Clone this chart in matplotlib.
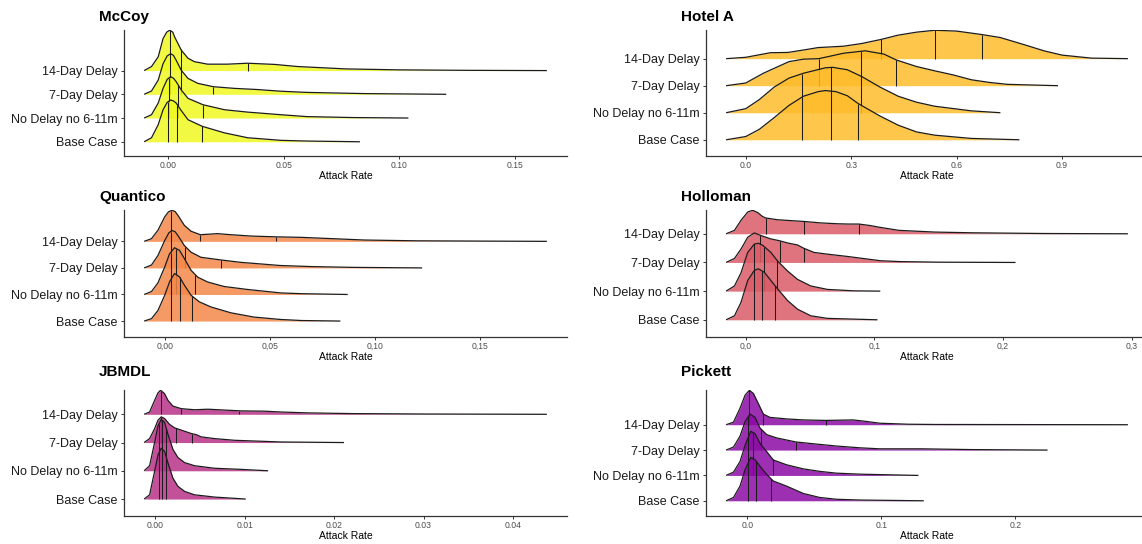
import numpy as np
import matplotlib
matplotlib.use("Agg")
import matplotlib.pyplot as plt

plt.rcParams['font.family'] = ['Liberation Sans', 'DejaVu Sans']

scenarios = ["Base Case", "No Delay no 6-11m", "7-Day Delay", "14-Day Delay"]
sites = ["McCoy", "Hotel A", "Quantico", "Holloman", "JBMDL", "Pickett"]
site_colors = {"McCoy": "#F0F921", "Hotel A": "#FEBC2A", "Quantico": "#F48849",
               "Holloman": "#DB5C68", "JBMDL": "#B93289", "Pickett": "#8B0AA5"}

# ---- density outlines (x = attack rate, h = ridge height in row units) ----
mccoy_x = {
    "14-Day Delay": [-0.0105, -0.0073, -0.0044, -0.0023, -0.0007, 0.0006, 0.0019, 0.0027, 0.0056, 0.0085, 0.0113, 0.017, 0.0256, 0.0343, 0.046, 0.056, 0.077, 0.10, 0.13, 0.164],
    "7-Day Delay": [-0.0105, -0.0073, -0.0044, -0.0023, -0.0005, 0.001, 0.0022, 0.0034, 0.0056, 0.0085, 0.0128, 0.0195, 0.0286, 0.0387, 0.0487, 0.06, 0.085, 0.1204],
    "No Delay no 6-11m": [-0.0105, -0.0073, -0.0044, -0.0023, -0.0005, 0.001, 0.0022, 0.0034, 0.0056, 0.0085, 0.015, 0.0243, 0.0343, 0.0487, 0.06, 0.08, 0.104],
    "Base Case": [-0.0105, -0.0073, -0.0044, -0.0023, -0.0005, 0.001, 0.0022, 0.0034, 0.0056, 0.0085, 0.0147, 0.0243, 0.0343, 0.0487, 0.06, 0.083],
}
mccoy_h = {
    "14-Day Delay": [0, 0.17, 0.58, 1.35, 1.62, 1.70, 1.62, 1.42, 0.86, 0.52, 0.375, 0.27, 0.27, 0.31, 0.26, 0.17, 0.07, 0.03, 0.01, 0],
    "7-Day Delay": [0, 0.14, 0.60, 1.29, 1.62, 1.71, 1.64, 1.43, 1.01, 0.67, 0.46, 0.32, 0.25, 0.20, 0.13, 0.08, 0.03, 0],
    "No Delay no 6-11m": [0, 0.14, 0.63, 1.25, 1.63, 1.74, 1.68, 1.53, 1.18, 0.83, 0.56, 0.35, 0.25, 0.14, 0.06, 0.02, 0],
    "Base Case": [0, 0.17, 0.72, 1.35, 1.66, 1.76, 1.72, 1.63, 1.31, 0.93, 0.65, 0.375, 0.17, 0.06, 0.03, 0],
}
mccoy_q = {"14-Day Delay": [0.0006, 0.0053, 0.0343], "7-Day Delay": [0.0006, 0.0053, 0.0195],
           "No Delay no 6-11m": [0.0004, 0.0042, 0.015], "Base Case": [0.0, 0.0039, 0.0147]}

hotel_x = {
    "14-Day Delay": [-0.056, 0.0, 0.07, 0.12, 0.174, 0.206, 0.278, 0.33, 0.385, 0.434, 0.486, 0.538, 0.6, 0.673, 0.725, 0.797, 0.849, 0.901, 0.984, 1.088],
    "7-Day Delay": [-0.056, 0.0, 0.05, 0.123, 0.164, 0.208, 0.278, 0.34, 0.393, 0.429, 0.486, 0.538, 0.59, 0.642, 0.694, 0.745, 0.889],
    "No Delay no 6-11m": [-0.056, 0.0, 0.039, 0.081, 0.123, 0.164, 0.226, 0.247, 0.289, 0.33, 0.382, 0.434, 0.486, 0.538, 0.642, 0.725],
    "Base Case": [-0.056, 0.0, 0.039, 0.081, 0.123, 0.164, 0.206, 0.226, 0.257, 0.289, 0.32, 0.382, 0.434, 0.486, 0.538, 0.642, 0.779],
}
hotel_h = {
    "14-Day Delay": [0, 0.05, 0.22, 0.23, 0.34, 0.41, 0.46, 0.56, 0.71, 0.87, 0.98, 1.05, 1.02, 0.89, 0.78, 0.5, 0.29, 0.13, 0.02, 0],
    "7-Day Delay": [0, 0.1, 0.46, 0.89, 0.98, 1.0, 1.2, 1.29, 1.17, 0.95, 0.71, 0.55, 0.4, 0.22, 0.12, 0.05, 0],
    "No Delay no 6-11m": [0, 0.15, 0.49, 0.95, 1.28, 1.46, 1.66, 1.68, 1.59, 1.34, 0.95, 0.61, 0.39, 0.24, 0.07, 0],
    "Base Case": [0, 0.12, 0.39, 0.82, 1.27, 1.61, 1.78, 1.82, 1.78, 1.63, 1.34, 0.88, 0.54, 0.29, 0.17, 0.05, 0],
}
hotel_q = {"14-Day Delay": [0.385, 0.538, 0.674], "7-Day Delay": [0.208, 0.328, 0.429],
           "No Delay no 6-11m": [0.160, 0.242, 0.328], "Base Case": [0.160, 0.242, 0.320]}

quantico_x = {
    "14-Day Delay": [-0.0101, -0.0066, -0.0035, -0.0003, 0.0015, 0.0032, 0.0047, 0.006, 0.0091, 0.0123, 0.0167, 0.0249, 0.0313, 0.0407, 0.0526, 0.065, 0.08, 0.095, 0.12, 0.15, 0.182],
    "7-Day Delay": [-0.0101, -0.0066, -0.0035, -0.0003, 0.0017, 0.0032, 0.0047, 0.006, 0.0091, 0.0123, 0.017, 0.0265, 0.036, 0.0455, 0.0549, 0.07, 0.09, 0.1225],
    "No Delay no 6-11m": [-0.0101, -0.0066, -0.0035, -0.0003, 0.002, 0.0044, 0.0068, 0.0091, 0.0123, 0.0155, 0.0202, 0.0281, 0.0391, 0.0549, 0.065, 0.087],
    "Base Case": [-0.0101, -0.0066, -0.0035, -0.0003, 0.002, 0.0044, 0.0068, 0.0091, 0.0123, 0.0163, 0.0218, 0.0313, 0.0423, 0.0549, 0.065, 0.0835],
}
quantico_h = {
    "14-Day Delay": [0, 0.1, 0.42, 0.92, 1.11, 1.17, 1.12, 0.98, 0.6, 0.38, 0.25, 0.29, 0.25, 0.2, 0.17, 0.15, 0.1, 0.05, 0.02, 0.01, 0],
    "7-Day Delay": [0, 0.11, 0.47, 1.03, 1.32, 1.41, 1.36, 1.22, 0.84, 0.59, 0.40, 0.30, 0.21, 0.15, 0.09, 0.05, 0.02, 0],
    "No Delay no 6-11m": [0, 0.11, 0.44, 1.03, 1.53, 1.76, 1.66, 1.35, 0.91, 0.65, 0.47, 0.30, 0.19, 0.06, 0.03, 0],
    "Base Case": [0, 0.09, 0.4, 0.97, 1.47, 1.79, 1.66, 1.35, 0.97, 0.72, 0.53, 0.31, 0.15, 0.06, 0.02, 0],
}
quantico_q = {"14-Day Delay": [0.0025, 0.0167, 0.0526], "7-Day Delay": [0.0025, 0.0096, 0.0265],
              "No Delay no 6-11m": [0.0025, 0.0052, 0.0144], "Base Case": [0.0025, 0.0068, 0.0128]}

holloman_x = {
    "14-Day Delay": [-0.0152, -0.0087, -0.0036, 0.0016, 0.0055, 0.0094, 0.0132, 0.0158, 0.0248, 0.0454, 0.0583, 0.0712, 0.0802, 0.088, 0.0964, 0.105, 0.119, 0.147, 0.176, 0.232, 0.297],
    "7-Day Delay": [-0.0152, -0.0087, -0.0036, 0.0016, 0.0067, 0.0119, 0.0196, 0.0261, 0.0326, 0.0403, 0.0454, 0.0531, 0.0635, 0.079, 0.1047, 0.12, 0.15, 0.2097],
    "No Delay no 6-11m": [-0.0152, -0.0087, -0.0036, 0.0016, 0.0067, 0.0098, 0.0132, 0.0196, 0.0248, 0.0326, 0.0403, 0.0506, 0.0635, 0.0841, 0.1046],
    "Base Case": [-0.0152, -0.0087, -0.0036, 0.0016, 0.0067, 0.0098, 0.0145, 0.0196, 0.0248, 0.0326, 0.0403, 0.0506, 0.0635, 0.1024],
}
holloman_h = {
    "14-Day Delay": [0, 0.12, 0.47, 0.76, 0.82, 0.74, 0.6, 0.55, 0.49, 0.43, 0.38, 0.35, 0.34, 0.34, 0.29, 0.22, 0.12, 0.06, 0.035, 0.01, 0],
    "7-Day Delay": [0, 0.14, 0.47, 0.88, 1.03, 0.94, 0.82, 0.76, 0.68, 0.61, 0.49, 0.35, 0.29, 0.21, 0.06, 0.03, 0.01, 0],
    "No Delay no 6-11m": [0, 0.18, 0.64, 1.35, 1.64, 1.67, 1.6, 1.35, 1.05, 0.70, 0.41, 0.18, 0.06, 0.01, 0],
    "Base Case": [0, 0.14, 0.61, 1.37, 1.72, 1.78, 1.66, 1.37, 1.08, 0.67, 0.37, 0.14, 0.05, 0],
}
holloman_q = {"14-Day Delay": [0.0158, 0.0454, 0.088], "7-Day Delay": [0.0114, 0.0266, 0.0454],
              "No Delay no 6-11m": [0.0067, 0.0145, 0.0243], "Base Case": [0.0067, 0.0127, 0.023]}

jbmdl_x = {
    "14-Day Delay": [-0.00127, -0.00066, -0.0001, 0.00028, 0.00057, 0.00102, 0.0014, 0.00195, 0.00288, 0.00437, 0.00587, 0.00772, 0.00959, 0.0122, 0.0141, 0.017, 0.022, 0.03, 0.0438],
    "7-Day Delay": [-0.00127, -0.00066, -0.0001, 0.00028, 0.00065, 0.00102, 0.00158, 0.00214, 0.00288, 0.004, 0.00456, 0.00512, 0.0066, 0.00884, 0.01145, 0.01406, 0.0211],
    "No Delay no 6-11m": [-0.00127, -0.00066, -0.0001, 0.00028, 0.00065, 0.00102, 0.0014, 0.00195, 0.00251, 0.00326, 0.00437, 0.0066, 0.00959, 0.0126],
    "Base Case": [-0.00127, -0.00066, -0.0001, 0.00028, 0.00065, 0.00102, 0.0014, 0.00195, 0.00251, 0.00326, 0.00437, 0.0066, 0.0101],
}
jbmdl_h = {
    "14-Day Delay": [0, 0.08, 0.49, 0.76, 0.85, 0.73, 0.49, 0.29, 0.2, 0.16, 0.18, 0.15, 0.12, 0.11, 0.08, 0.05, 0.025, 0.01, 0],
    "7-Day Delay": [0, 0.14, 0.49, 0.79, 0.91, 0.85, 0.64, 0.52, 0.44, 0.32, 0.28, 0.2, 0.14, 0.08, 0.05, 0.02, 0],
    "No Delay no 6-11m": [0, 0.18, 1.0, 1.59, 1.82, 1.71, 1.29, 0.76, 0.47, 0.29, 0.18, 0.09, 0.05, 0],
    "Base Case": [0, 0.15, 0.98, 1.56, 1.8, 1.68, 1.27, 0.74, 0.45, 0.27, 0.15, 0.07, 0],
}
jbmdl_q = {"14-Day Delay": [0.0006, 0.0029, 0.0094], "7-Day Delay": [0.0006, 0.0023, 0.0041],
           "No Delay no 6-11m": [0.0004, 0.0007, 0.0012], "Base Case": [0.0004, 0.0007, 0.0012]}

pickett_x = {
    "14-Day Delay": [-0.0158, -0.0103, -0.0054, -0.0016, 0.0016, 0.0046, 0.0082, 0.012, 0.0169, 0.0293, 0.0417, 0.0586, 0.0789, 0.0888, 0.0987, 0.12, 0.14, 0.208, 0.284],
    "7-Day Delay": [-0.0158, -0.0103, -0.0054, -0.0016, 0.0021, 0.0058, 0.0095, 0.0145, 0.0219, 0.0363, 0.0492, 0.0665, 0.0839, 0.0987, 0.13, 0.167, 0.224],
    "No Delay no 6-11m": [-0.0158, -0.0103, -0.0054, -0.0016, 0.0026, 0.0058, 0.0095, 0.0145, 0.0194, 0.0293, 0.0417, 0.0541, 0.0665, 0.0839, 0.1277],
    "Base Case": [-0.0158, -0.0103, -0.0054, -0.0016, 0.0026, 0.0058, 0.0095, 0.0145, 0.0194, 0.0293, 0.0417, 0.0541, 0.0665, 0.0839, 0.1317],
}
pickett_h = {
    "14-Day Delay": [0, 0.1, 0.65, 1.17, 1.36, 1.23, 0.84, 0.42, 0.29, 0.23, 0.19, 0.17, 0.19, 0.13, 0.06, 0.02, 0.01, 0.005, 0],
    "7-Day Delay": [0, 0.12, 0.55, 1.13, 1.42, 1.29, 0.87, 0.61, 0.48, 0.32, 0.25, 0.16, 0.09, 0.05, 0.05, 0.02, 0],
    "No Delay no 6-11m": [0, 0.13, 0.55, 1.19, 1.74, 1.65, 1.26, 0.94, 0.61, 0.42, 0.26, 0.16, 0.09, 0.05, 0],
    "Base Case": [0, 0.13, 0.58, 1.23, 1.71, 1.62, 1.36, 1.04, 0.78, 0.58, 0.29, 0.13, 0.06, 0.03, 0],
}
pickett_q = {"14-Day Delay": [0.0016, 0.012, 0.0586], "7-Day Delay": [0.0009, 0.01, 0.0363],
             "No Delay no 6-11m": [0.0009, 0.0046, 0.019], "Base Case": [0.0006, 0.0065, 0.0177]}

x_ticks = {"McCoy": [0, 0.05, 0.10, 0.15], "Hotel A": [0, 0.3, 0.6, 0.9],
           "Quantico": [0, 0.05, 0.10, 0.15], "Holloman": [0, 0.1, 0.2, 0.3],
           "JBMDL": [0, 0.01, 0.02, 0.03, 0.04], "Pickett": [0, 0.1, 0.2]}
tick_fmt = {"McCoy": ("{:.2f}", "."), "Hotel A": ("{:.1f}", "."), "Quantico": ("{:.2f}", ","),
            "Holloman": ("{:.1f}", ","), "JBMDL": ("{:.2f}", "."), "Pickett": ("{:.1f}", ".")}

data = {"McCoy": (mccoy_x, mccoy_h, mccoy_q), "Hotel A": (hotel_x, hotel_h, hotel_q),
        "Quantico": (quantico_x, quantico_h, quantico_q), "Holloman": (holloman_x, holloman_h, holloman_q),
        "JBMDL": (jbmdl_x, jbmdl_h, jbmdl_q), "Pickett": (pickett_x, pickett_h, pickett_q)}

# ---- layout (pixels) ----
W, H = 1142, 544
cols = [(124, 567), (706, 1148)]
rows = [(30, 156), (210, 337), (390, 516)]
title_x = [99, 681]
title_y = [17, 197, 372]

fig = plt.figure(figsize=(W / 100, H / 100), dpi=100)
line_col = "#1c1c1c"

for k, site in enumerate(sites):
    r, c = divmod(k, 2)
    x0, x1 = cols[c]
    y0, y1 = rows[r]
    ax = fig.add_axes([x0 / W, 1 - y1 / H, (x1 - x0) / W, (y1 - y0) / H])
    xs, hs, qs = data[site]
    color = site_colors[site]
    top = 0
    xmin, xmax = np.inf, -np.inf
    for i, sc in enumerate(scenarios, start=1):
        x = np.array(xs[sc]); h = np.array(hs[sc])
        z = 10 - i
        zb = 10 + (4 - i) * 3
        ax.fill_between(x, i, i + h, color=color, alpha=0.85, lw=0, zorder=zb)
        qh = np.interp(qs[sc], x, h)
        ax.vlines(qs[sc], i, i + qh, color=line_col, lw=0.75, zorder=zb + 1)
        ax.plot(x, i + h, color=line_col, lw=0.9, zorder=zb + 2, solid_capstyle='butt')
        top = max(top, i + h.max())
        xmin = min(xmin, x.min()); xmax = max(xmax, x.max())
    rng = xmax - xmin
    ax.set_xlim(xmin - 0.05 * rng, xmax + 0.05 * rng)
    ax.set_ylim(0.4, top + 0.01)
    ax.set_yticks([1, 2, 3, 4])
    ax.set_yticklabels(scenarios, fontsize=9, color="#1a1a1a")
    ax.set_xticks(x_ticks[site])
    fmt, sep = tick_fmt[site]
    ax.set_xticklabels([fmt.format(v).replace(".", sep) for v in x_ticks[site]],
                       fontsize=6.2, color="#4d4d4d")
    for s in ("top", "right"):
        ax.spines[s].set_visible(False)
    for s in ("left", "bottom"):
        ax.spines[s].set_color("#333333")
        ax.spines[s].set_linewidth(0.9)
    ax.tick_params(axis="y", length=2.5, width=0.7, color="#333333", pad=2)
    ax.tick_params(axis="x", length=2.0, width=0.7, color="#333333", pad=1.5)
    ax.set_facecolor("none")
    fig.text((x0 + x1) / 2 / W, 1 - (y1 + 20) / H, "Attack Rate", fontsize=7.5,
             ha="center", va="center", color="black")
    fig.text(title_x[c] / W, 1 - title_y[r] / H, site, fontsize=11, fontweight="bold",
             ha="left", va="center", color="black")

fig.savefig("out.png", dpi=100, facecolor="white")
